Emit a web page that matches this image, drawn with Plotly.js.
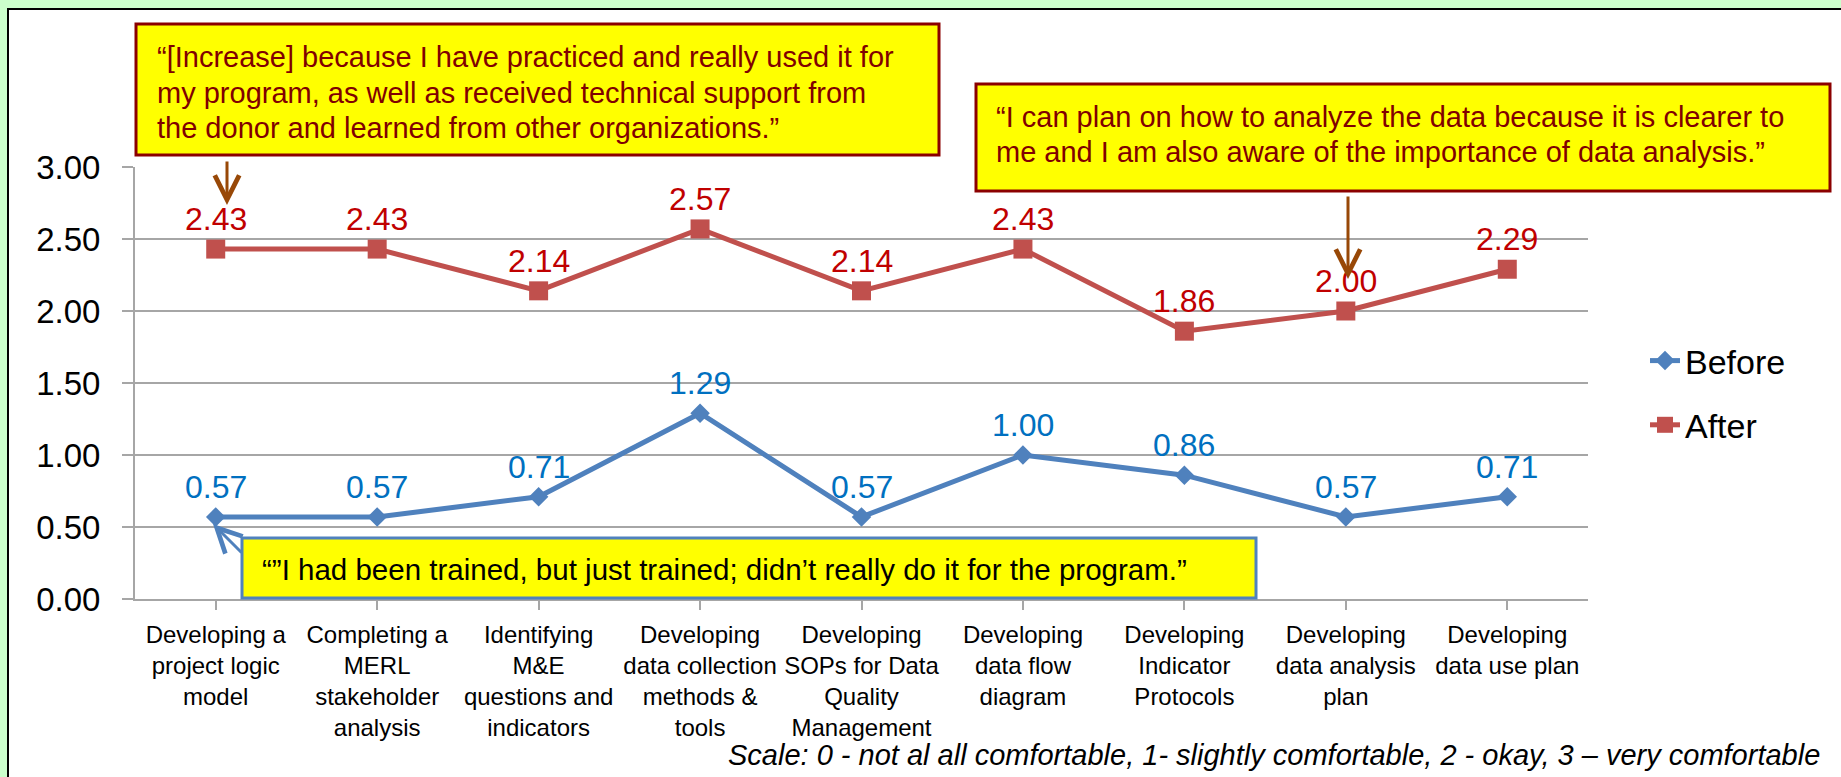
<!DOCTYPE html>
<html>
<head>
<meta charset="utf-8">
<script src="https://cdn.plot.ly/plotly-3.0.1.min.js"></script>
<style>
  html, body { margin: 0; padding: 0; background: #CCFFCC; }
  #wrap { position: relative; width: 1841px; height: 777px; overflow: hidden; background: #CCFFCC; }
  #frame { position: absolute; left: 7px; top: 8px; width: 1900px; height: 900px; background: #ffffff;
           border-top: 2.5px solid #000; border-left: 2.5px solid #000; }
  #chart { position: absolute; left: 0; top: 0; width: 1841px; height: 777px; }
</style>
</head>
<body>
<div id="wrap">
  <div id="frame"></div>
  <div id="chart"></div>
</div>
<script>
// ---- data ----
const categories = [
  "Developing a<br>project logic<br>model",
  "Completing a<br>MERL<br>stakeholder<br>analysis",
  "Identifying<br>M&amp;E<br>questions and<br>indicators",
  "Developing<br>data collection<br>methods &amp;<br>tools",
  "Developing<br>SOPs for Data<br>Quality<br>Management",
  "Developing<br>data flow<br>diagram",
  "Developing<br>Indicator<br>Protocols",
  "Developing<br>data analysis<br>plan",
  "Developing<br>data use plan"
];
const before = [0.57, 0.57, 0.71, 1.29, 0.57, 1.00, 0.86, 0.57, 0.71];
const after  = [2.43, 2.43, 2.14, 2.57, 2.14, 2.43, 1.86, 2.00, 2.29];
const seriesNames = ["Before", "After"];
const yTickVals = [0, 0.5, 1, 1.5, 2, 2.5, 3];

const quote1Lines = [
  "“[Increase] because I have practiced and really used it for",
  "my program, as well as received technical support from",
  "the donor and learned from other organizations.”"
];
const quote2Lines = [
  "“I can plan on how to analyze the data because it is clearer to",
  "me and I am also aware of the importance of data analysis.”"
];
const quote3 = "“”I had been trained, but just trained; didn’t really do it for the program.”";
const scaleNote = "Scale: 0 - not al all comfortable, 1- slightly comfortable, 2 - okay, 3 – very comfortable";

// ---- layout geometry (pixels) ----
const W = 1841, H = 777;
const L = 135, R = 1588, T = 167, B = 599;
const px = v => (v - L) / (R - L);
const py = v => (B - v) / (B - T);

const FONT = "Liberation Sans, Arial, sans-serif";
const BLUE = "#4F81BD", RED = "#C0504D";

const xIdx = categories.map((c, i) => i);

const traces = [
  {
    x: xIdx, y: before, name: seriesNames[0], type: "scatter", mode: "lines+markers",
    line: { color: BLUE, width: 5 },
    marker: { symbol: "diamond", size: 15, color: BLUE },
    legendgroup: "a"
  },
  {
    x: xIdx, y: after, name: seriesNames[1], type: "scatter", mode: "lines+markers",
    line: { color: RED, width: 5 },
    marker: { symbol: "square", size: 19, color: RED },
    legendgroup: "b"
  }
];

const annotations = [];
before.forEach((v, i) => annotations.push({
  x: i, y: v, xref: "x", yref: "y", text: v.toFixed(2), showarrow: false,
  yshift: 30, font: { family: FONT, size: 32, color: "#0070C0" }
}));
after.forEach((v, i) => annotations.push({
  x: i, y: v, xref: "x", yref: "y", text: v.toFixed(2), showarrow: false,
  yshift: 30, font: { family: FONT, size: 32, color: "#C00000" }
}));

// quote texts (one annotation per line for exact line spacing)
const q1Y = [57, 93, 128];
quote1Lines.forEach((t, i) => annotations.push({
  xref: "paper", yref: "paper", x: px(155), y: py(q1Y[i]), xanchor: "left", yanchor: "middle",
  align: "left", showarrow: false, text: t,
  font: { family: FONT, size: 29, color: "#800000" }
}));
const q2Y = [117, 152];
quote2Lines.forEach((t, i) => annotations.push({
  xref: "paper", yref: "paper", x: px(994), y: py(q2Y[i]), xanchor: "left", yanchor: "middle",
  align: "left", showarrow: false, text: t,
  font: { family: FONT, size: 29, color: "#800000" }
}));
annotations.push({
  xref: "paper", yref: "paper", x: px(260), y: py(569), xanchor: "left", yanchor: "middle",
  align: "left", showarrow: false, text: quote3,
  font: { family: FONT, size: 29.5, color: "#000000" }
});
annotations.push({
  xref: "paper", yref: "paper", x: px(1822), y: py(755), xanchor: "right", yanchor: "middle",
  showarrow: false, text: "<i>" + scaleNote + "</i>",
  font: { family: FONT, size: 29, color: "#000000" }
});

// arrows
annotations.push({
  xref: "paper", yref: "paper", x: px(227), y: py(205), ax: 0, ay: -45, axref: "pixel", ayref: "pixel",
  text: "", showarrow: true, arrowhead: 5, arrowsize: 1.6, arrowwidth: 3, arrowcolor: "#984807"
});
annotations.push({
  xref: "paper", yref: "paper", x: px(1348), y: py(279), ax: 0, ay: -84, axref: "pixel", ayref: "pixel",
  text: "", showarrow: true, arrowhead: 5, arrowsize: 1.6, arrowwidth: 3, arrowcolor: "#984807"
});
annotations.push({
  xref: "paper", yref: "paper", x: px(213), y: py(524), ax: 30, ay: 30, axref: "pixel", ayref: "pixel",
  text: "", showarrow: true, arrowhead: 5, arrowsize: 1.6, arrowwidth: 3, arrowcolor: BLUE
});

const shapes = [
  { type: "rect", xref: "paper", yref: "paper", x0: px(136), x1: px(939), y0: py(155), y1: py(24),
    fillcolor: "#FFFF00", line: { color: "#8B0000", width: 3 }, layer: "above" },
  { type: "rect", xref: "paper", yref: "paper", x0: px(976), x1: px(1830), y0: py(191), y1: py(84),
    fillcolor: "#FFFF00", line: { color: "#8B0000", width: 3 }, layer: "above" },
  { type: "rect", xref: "paper", yref: "paper", x0: px(242), x1: px(1256), y0: py(598), y1: py(538),
    fillcolor: "#FFFF00", line: { color: BLUE, width: 3 }, layer: "above" }
];

const layout = {
  width: W, height: H,
  margin: { l: L, r: W - R, t: T, b: H - B, pad: 0 },
  paper_bgcolor: "rgba(0,0,0,0)",
  plot_bgcolor: "rgba(0,0,0,0)",
  font: { family: FONT, color: "#000" },
  showlegend: true,
  legend: {
    x: px(1645), y: py(393), xanchor: "left", yanchor: "middle",
    font: { family: FONT, size: 34, color: "#000" },
    bgcolor: "rgba(0,0,0,0)", tracegroupgap: 17, traceorder: "grouped"
  },
  xaxis: {
    range: [-0.5, categories.length - 0.5],
    tickmode: "array", tickvals: xIdx, ticktext: categories,
    tickson: "boundaries", ticks: "outside", ticklen: 9, tickwidth: 2, tickcolor: "#A6A6A6",
    showline: true, linecolor: "#A6A6A6", linewidth: 2,
    showgrid: false, zeroline: false, automargin: false, tickangle: 0,
    ticklabelstandoff: 4,
    tickfont: { family: FONT, size: 24, color: "#000" }, fixedrange: true
  },
  yaxis: {
    range: [0, 3], tickmode: "array", tickvals: yTickVals,
    ticktext: yTickVals.map(v => v.toFixed(2)),
    ticks: "outside", ticklen: 11, tickwidth: 2, tickcolor: "#A6A6A6",
    showline: true, linecolor: "#A6A6A6", linewidth: 2,
    showgrid: true, gridcolor: "#A6A6A6", gridwidth: 2,
    zeroline: false, automargin: false, ticklabelstandoff: 15,
    tickfont: { family: FONT, size: 33, color: "#000" }, fixedrange: true
  },
  shapes: shapes,
  annotations: annotations
};

Plotly.newPlot("chart", traces, layout, { displayModeBar: false, staticPlot: true });
</script>
</body>
</html>
